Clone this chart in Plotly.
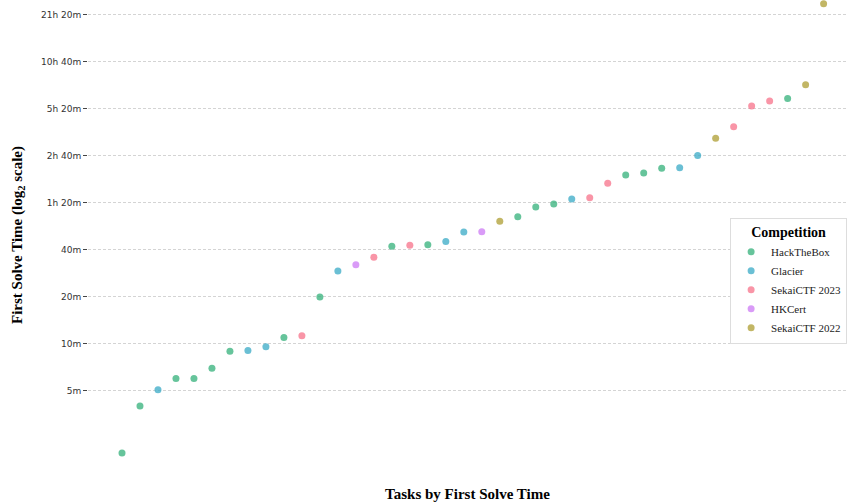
import plotly.graph_objects as go

# First-solve times (minutes) for each task, ordered from fastest to slowest
competition = [
    "HackTheBox", "HackTheBox", "Glacier", "HackTheBox", "HackTheBox",
    "HackTheBox", "HackTheBox", "Glacier", "Glacier", "HackTheBox",
    "SekaiCTF 2023", "HackTheBox", "Glacier", "HKCert", "SekaiCTF 2023",
    "HackTheBox", "SekaiCTF 2023", "HackTheBox", "Glacier", "Glacier",
    "HKCert", "SekaiCTF 2022", "HackTheBox", "HackTheBox", "HackTheBox",
    "Glacier", "SekaiCTF 2023", "SekaiCTF 2023", "HackTheBox", "HackTheBox",
    "HackTheBox", "Glacier", "Glacier", "SekaiCTF 2022", "SekaiCTF 2023",
    "SekaiCTF 2023", "SekaiCTF 2023", "HackTheBox", "SekaiCTF 2022", "SekaiCTF 2022",
]
solve_minutes = [
    2.0, 4.0, 5.1, 6.0, 6.0, 7.0, 9.0, 9.1, 9.6, 11.0,
    11.3, 20.0, 29.3, 32.2, 36.0, 42.2, 42.9, 43.2, 45.4, 52.1,
    52.4, 61.0, 65.4, 75.3, 78.8, 85.0, 86.5, 107.0, 121.0, 124.5,
    133.4, 134.6, 161.0, 208.0, 246.0, 334.0, 360.0, 373.0, 458.0, 1512.0,
]

competition_order = ["HackTheBox", "Glacier", "SekaiCTF 2023", "HKCert", "SekaiCTF 2022"]
palette = {
    "HackTheBox": "#33b07a",
    "Glacier": "#38a9c5",
    "SekaiCTF 2023": "#f77189",
    "HKCert": "#cc7af4",
    "SekaiCTF 2022": "#ae9d31",
}

tick_minutes = [5, 10, 20, 40, 80, 160, 320, 640, 1280]
tick_labels = ["5m", "10m", "20m", "40m", "1h 20m", "2h 40m", "5h 20m", "10h 40m", "21h 20m"]

serif = "Times New Roman, Liberation Serif, serif"

fig = go.Figure()
for comp in competition_order:
    idx = [i for i, c in enumerate(competition) if c == comp]
    fig.add_trace(go.Scatter(
        x=idx,
        y=[solve_minutes[i] for i in idx],
        mode="markers",
        name=comp,
        marker=dict(size=7, color=palette[comp], opacity=0.75, line=dict(width=0)),
    ))

fig.update_layout(
    width=847, height=504,
    margin=dict(l=88, r=0, t=0, b=34, autoexpand=False),
    plot_bgcolor="white", paper_bgcolor="white",
    showlegend=True,
    legend=dict(
        title=dict(text="<b>Competition</b>", side="top center",
                   font=dict(family=serif, size=14, color="black")),
        font=dict(family=serif, size=11, color="#222"),
        x=0.846, xanchor="left", y=0.536, yanchor="top",
        bgcolor="white", bordercolor="#dddddd", borderwidth=1,
    ),
)

fig.update_xaxes(
    range=[-1.89, 40.3],
    showticklabels=False, showgrid=False, zeroline=False, showline=False, ticks="",
    title=dict(text="<b>Tasks by First Solve Time</b>",
               font=dict(family=serif, size=15, color="black"), standoff=18),
)

fig.update_yaxes(
    type="log",
    range=[0.1929, 3.2032],
    tickvals=tick_minutes, ticktext=tick_labels,
    ticks="outside", ticklen=4, tickcolor="#444", tickwidth=1,
    tickfont=dict(family="DejaVu Sans, sans-serif", size=9, color="#333"),
    showgrid=True, gridcolor="#d4d4d4", griddash="3px,2px", gridwidth=1,
    zeroline=False, showline=False,
    title=dict(text="<b>First Solve Time (log<sub>2</sub> scale)</b>",
               font=dict(family=serif, size=15, color="black"), standoff=14),
)

fig.write_html("out.html")
